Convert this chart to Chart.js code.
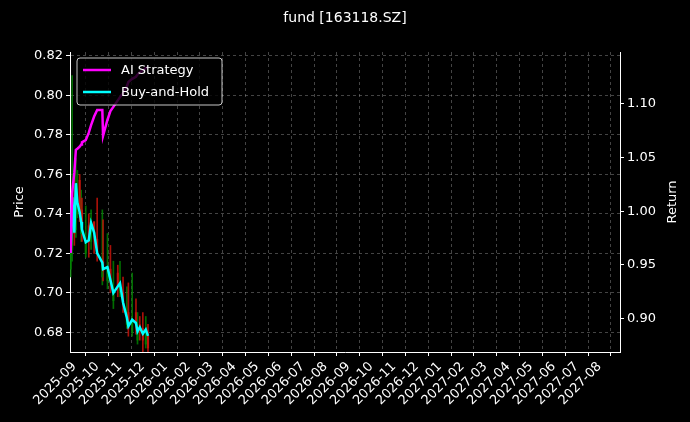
<!DOCTYPE html>
<html>
<head>
<meta charset="utf-8">
<script src="https://cdn.jsdelivr.net/npm/chart.js@4/dist/chart.umd.min.js"></script>
<style>
  body { margin: 0; background: #000; }
  #wrap { width: 690px; height: 422px; }
</style>
</head>
<body>
<div id="wrap"><canvas id="chart"></canvas></div>
<script>
// Data
const dates = ['2025-08-27','2025-08-29','2025-09-01','2025-09-03','2025-09-05','2025-09-08','2025-09-10','2025-09-11','2025-09-16','2025-09-20',
  '2025-09-23','2025-09-27','2025-10-01','2025-10-08','2025-10-09','2025-10-15','2025-10-19','2025-10-23','2025-10-29','2025-11-01',
  '2025-11-05','2025-11-10','2025-11-12','2025-11-17','2025-11-22','2025-11-24','2025-11-27','2025-12-01','2025-12-05','2025-12-08'];
const openP  = [0.712, 0.722, 0.748, 0.732, 0.740, 0.757, 0.730, 0.742, 0.720, 0.734,
  0.726, 0.736, 0.727, 0.708, 0.716, 0.706, 0.712, 0.696, 0.710, 0.700,
  0.700, 0.684, 0.690, 0.680, 0.690, 0.676, 0.684, 0.682, 0.674, 0.678];
const closeP = [0.720, 0.748, 0.730, 0.755, 0.745, 0.740, 0.736, 0.732, 0.725, 0.726,
  0.735, 0.730, 0.720, 0.715, 0.711, 0.713, 0.706, 0.700, 0.703, 0.705,
  0.694, 0.687, 0.682, 0.686, 0.684, 0.680, 0.681, 0.676, 0.679, 0.672];
const highP  = [0.725, 0.810, 0.760, 0.768, 0.762, 0.760, 0.752, 0.748, 0.744, 0.740,
  0.742, 0.736, 0.748, 0.742, 0.737, 0.730, 0.724, 0.716, 0.714, 0.716,
  0.708, 0.703, 0.705, 0.710, 0.697, 0.690, 0.688, 0.690, 0.688, 0.684];
const lowP   = [0.708, 0.716, 0.724, 0.728, 0.738, 0.736, 0.726, 0.726, 0.718, 0.718,
  0.722, 0.720, 0.716, 0.704, 0.706, 0.702, 0.700, 0.692, 0.698, 0.698,
  0.690, 0.682, 0.678, 0.678, 0.679, 0.674, 0.676, 0.670, 0.672, 0.669];
const aiReturn = [0.961, 1.017, 1.036, 1.057, 1.058, 1.060, 1.062, 1.064, 1.066, 1.073,
  1.080, 1.088, 1.094, 1.094, 1.070, 1.085, 1.093, 1.097, 1.103, 1.106,
  1.110, 1.116, 1.120, 1.123, 1.125, 1.127, 1.129, 1.131, 1.133, 1.134];
const bhReturn = [0.961, 1.013, 0.980, 1.026, 1.008, 0.999, 0.990, 0.983, 0.971, 0.973,
  0.989, 0.980, 0.961, 0.952, 0.946, 0.948, 0.936, 0.924, 0.930, 0.933,
  0.915, 0.901, 0.893, 0.899, 0.896, 0.888, 0.892, 0.886, 0.890, 0.884];
const monthLabels = ['2025-09','2025-10','2025-11','2025-12','2026-01','2026-02','2026-03','2026-04','2026-05','2026-06',
  '2026-07','2026-08','2026-09','2026-10','2026-11','2026-12','2027-01','2027-02','2027-03','2027-04',
  '2027-05','2027-06','2027-07','2027-08'];

// date string -> months since 2025-09
function monthPos(s) {
    const [y, m, d] = s.split('-').map(Number);
    const dim = new Date(y, m, 0).getDate();
    return (y - 2025) * 12 + (m - 9) + (d - 1) / dim;
}
const xs = dates.map(monthPos);
const candleColors = closeP.map((c, i) => c >= openP[i] ? 'rgba(0,128,0,0.85)' : 'rgba(200,20,10,0.85)');

const gridColor = 'rgba(150,150,150,0.45)';
const font = { family: 'DejaVu Sans', size: 13 };

const legendPlugin = {
    id: 'boxLegend',
    afterDatasetsDraw(chart) {
        const ctx = chart.ctx;
        const x = 77, y = 58, w = 145, h = 47;
        ctx.save();
        ctx.fillStyle = 'rgba(0,0,0,0.8)';
        ctx.strokeStyle = 'rgba(220,220,220,0.9)';
        ctx.lineWidth = 1;
        ctx.beginPath();
        ctx.roundRect(x, y, w, h, 3);
        ctx.fill();
        ctx.stroke();
        const items = [['AI Strategy', '#ff00ff'], ['Buy-and-Hold', '#00ffff']];
        ctx.font = '13px "DejaVu Sans"';
        ctx.textBaseline = 'middle';
        items.forEach(([label, color], i) => {
            const ly = y + 12 + i * 22;
            ctx.strokeStyle = color;
            ctx.lineWidth = 2.5;
            ctx.beginPath();
            ctx.moveTo(x + 6, ly);
            ctx.lineTo(x + 34, ly);
            ctx.stroke();
            ctx.fillStyle = '#fff';
            ctx.fillText(label, x + 44, ly + 1);
        });
        ctx.restore();
    }
};

const textPlugin = {
    id: 'texts',
    afterDraw(chart) {
        const ctx = chart.ctx;
        ctx.save();
        ctx.fillStyle = '#fff';
        ctx.font = '14px "DejaVu Sans"';
        ctx.textAlign = 'center';
        ctx.textBaseline = 'middle';
        ctx.fillText('fund [163118.SZ]', 345, 18);
        ctx.font = '13px "DejaVu Sans"';
        ctx.translate(673, 202);
        ctx.rotate(-Math.PI / 2);
        ctx.fillText('Return', 0, 0);
        ctx.restore();
    }
};

const bgPlugin = {
    id: 'bg',
    beforeDraw(chart) {
        chart.ctx.save();
        chart.ctx.fillStyle = '#000';
        chart.ctx.fillRect(0, 0, chart.width, chart.height);
        chart.ctx.restore();
    }
};

new Chart(document.getElementById('chart').getContext('2d'), {
    type: 'bar',
    data: {
        datasets: [
            {
                type: 'line',
                label: 'AI Strategy',
                data: xs.map((x, i) => ({ x, y: aiReturn[i] })),
                yAxisID: 'yR',
                borderColor: '#ff00ff',
                borderWidth: 2.5,
                pointRadius: 0,
                tension: 0,
                order: 0
            },
            {
                type: 'line',
                label: 'Buy-and-Hold',
                data: xs.map((x, i) => ({ x, y: bhReturn[i] })),
                yAxisID: 'yR',
                borderColor: '#00ffff',
                borderWidth: 2.5,
                pointRadius: 0,
                tension: 0,
                order: 0
            },
            {
                label: 'wick',
                data: xs.map((x, i) => ({ x, y: [lowP[i], highP[i]] })),
                yAxisID: 'y',
                backgroundColor: candleColors,
                barThickness: 1,
                grouped: false,
                order: 2
            },
            {
                label: 'body',
                data: xs.map((x, i) => ({ x, y: [openP[i], closeP[i]] })),
                yAxisID: 'y',
                backgroundColor: candleColors,
                barThickness: 1.5,
                grouped: false,
                order: 1
            }
        ]
    },
    options: {
        responsive: true,
        maintainAspectRatio: false,
        animation: false,
        layout: { padding: { left: 10, right: 10, top: 52, bottom: 0 } },
        scales: {
            x: {
                type: 'linear',
                min: -0.19,
                max: 23.9,
                offset: false,
                afterBuildTicks(axis) {
                    axis.ticks = monthLabels.map((_, i) => ({ value: i }));
                },
                afterFit(axis) { axis.height = 70; },
                ticks: {
                    color: '#fff',
                    font,
                    minRotation: 45,
                    maxRotation: 45,
                    autoSkip: false,
                    callback: (v) => monthLabels[v] || ''
                },
                grid: { color: gridColor, tickColor: '#fff', tickLength: 4, drawTicks: true },
                border: { color: '#fff', dash: [3, 3] }
            },
            y: {
                position: 'left',
                min: 0.670,
                max: 0.822,
                afterBuildTicks(axis) {
                    axis.ticks = [0.68, 0.70, 0.72, 0.74, 0.76, 0.78, 0.80, 0.82].map(v => ({ value: v }));
                },
                afterFit(axis) { axis.width = 60; },
                ticks: { color: '#fff', font, callback: (v) => v.toFixed(2) },
                title: { display: true, text: 'Price', color: '#fff', font, padding: 2 },
                grid: { color: gridColor, tickColor: '#fff', tickLength: 4 },
                border: { color: '#fff', dash: [3, 3] }
            },
            yR: {
                position: 'right',
                min: 0.869,
                max: 1.148,
                afterBuildTicks(axis) {
                    axis.ticks = [0.90, 0.95, 1.00, 1.05, 1.10].map(v => ({ value: v }));
                },
                afterFit(axis) { axis.width = 60; },
                ticks: { color: '#fff', font, callback: (v) => v.toFixed(2) },
                title: { display: false },
                grid: { drawOnChartArea: false, tickColor: '#fff', tickLength: 4 },
                border: { color: '#fff' }
            }
        },
        plugins: {
            legend: { display: false },
            tooltip: { enabled: false }
        }
    },
    plugins: [bgPlugin, legendPlugin, textPlugin]
});
</script>
</body>
</html>
